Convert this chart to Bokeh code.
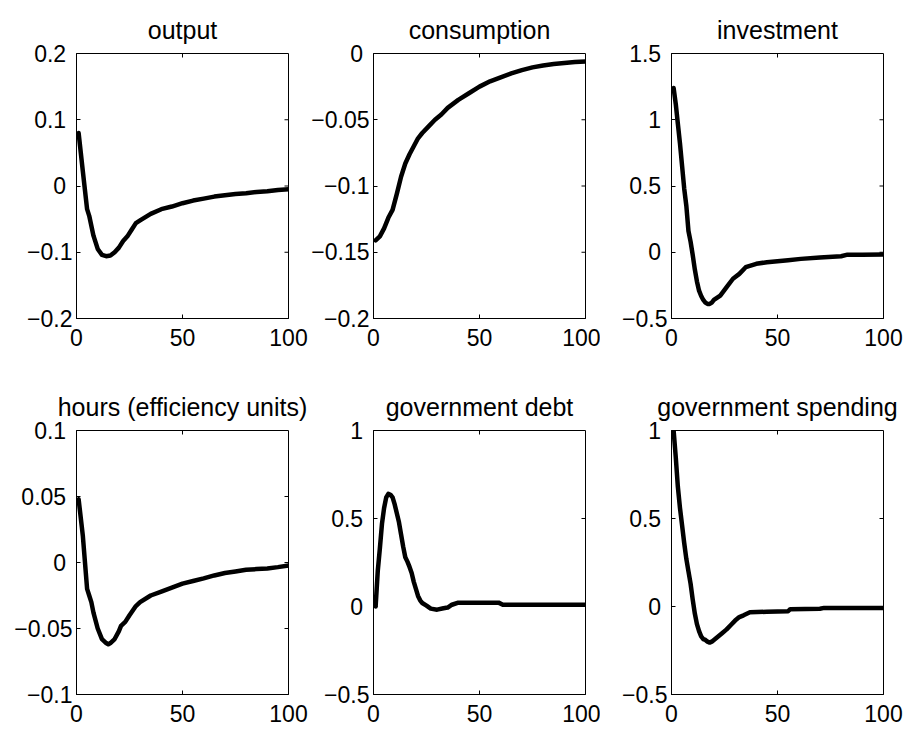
import math
from bokeh.plotting import figure
from bokeh.layouts import gridplot
from bokeh.models import Range1d, FixedTicker
from bokeh.embed import file_html
from bokeh.resources import INLINE

# ---------------- data ----------------
titles = ["output", "consumption", "investment",
          "hours (efficiency units)", "government debt", "government spending"]

x_ticks = [0, 50, 100]
x_labels = ["0", "50", "100"]

output_t = [1, 3, 5, 6, 8, 10, 12, 14, 16, 18, 20, 22, 24, 26, 28, 30, 35, 40, 45,
            50, 55, 60, 65, 70, 75, 80, 85, 90, 95, 100]
output_v = [0.08, 0.022, -0.035, -0.045, -0.075, -0.095, -0.104, -0.106, -0.105, -0.1,
            -0.093, -0.083, -0.076, -0.066, -0.056, -0.052, -0.042, -0.035, -0.031,
            -0.026, -0.022, -0.019, -0.016, -0.014, -0.012, -0.011, -0.009, -0.008,
            -0.006, -0.005]

consumption_t = [1, 3, 5, 7, 9, 11, 13, 15, 17, 19, 21, 23, 26, 29, 32, 35, 40, 45, 50,
                 55, 60, 65, 70, 75, 80, 85, 90, 95, 100]
consumption_v = [-0.141, -0.138, -0.132, -0.124, -0.118, -0.106, -0.093, -0.083, -0.076,
                 -0.07, -0.064, -0.06, -0.055, -0.05, -0.046, -0.041, -0.035, -0.03,
                 -0.025, -0.021, -0.018, -0.015, -0.0125, -0.0105, -0.009, -0.008,
                 -0.0072, -0.0065, -0.006]

investment_t = [1, 2, 3, 4, 5, 6, 7, 8, 9, 10, 11, 12, 13, 14, 15, 16, 17, 18, 19, 20,
                23, 26, 29, 32, 35, 40, 45, 55, 61, 70, 80, 83, 90, 100]
investment_v = [1.24, 1.12, 0.97, 0.82, 0.65, 0.48, 0.35, 0.16, 0.08, -0.02, -0.13, -0.22,
                -0.29, -0.33, -0.36, -0.38, -0.39, -0.39, -0.38, -0.36, -0.327, -0.264,
                -0.2, -0.163, -0.113, -0.087, -0.075, -0.06, -0.05, -0.04, -0.03, -0.018,
                -0.018, -0.017]

hours_t = [1, 3, 5, 6, 7, 8, 10, 12, 14, 15, 16, 18, 20, 21, 23, 25, 28, 30, 35, 40, 45,
           50, 55, 60, 65, 70, 75, 80, 85, 90, 95, 100]
hours_v = [0.048, 0.02, -0.02, -0.025, -0.03, -0.038, -0.05, -0.058, -0.061, -0.062,
           -0.061, -0.058, -0.052, -0.048, -0.045, -0.04, -0.033, -0.03, -0.025, -0.022,
           -0.019, -0.016, -0.014, -0.012, -0.0098, -0.008, -0.0068, -0.0055, -0.005,
           -0.0045, -0.0035, -0.0023]

debt_t = [1, 2, 3, 4, 5, 6, 7, 8, 9, 10, 11, 12, 13, 14, 15, 16, 17, 18, 19, 20, 21, 22,
          23, 25, 27, 30, 33, 35, 37, 40, 59, 61, 100]
debt_v = [0.0, 0.2, 0.33, 0.47, 0.56, 0.62, 0.64, 0.635, 0.62, 0.58, 0.53, 0.48, 0.41,
          0.34, 0.28, 0.255, 0.225, 0.19, 0.14, 0.1, 0.06, 0.035, 0.02, 0.005, -0.012,
          -0.018, -0.01, -0.006, 0.01, 0.022, 0.022, 0.01, 0.01]

spending_t = [1, 2, 3, 4, 5, 6, 7, 8, 9, 10, 11, 12, 13, 14, 15, 16, 17, 18, 19, 20, 22,
              24, 26, 28, 30, 32, 34, 37, 45, 55, 56, 70, 72, 100]
spending_v = [1.0, 0.85, 0.68, 0.56, 0.46, 0.36, 0.27, 0.2, 0.13, 0.04, -0.04, -0.1, -0.14,
              -0.17, -0.185, -0.19, -0.2, -0.205, -0.2, -0.19, -0.17, -0.15, -0.13, -0.105,
              -0.08, -0.06, -0.05, -0.033, -0.03, -0.027, -0.015, -0.013, -0.008, -0.008]

y_ticks = [
    [-0.2, -0.1, 0, 0.1, 0.2],
    [-0.2, -0.15, -0.1, -0.05, 0],
    [-0.5, 0, 0.5, 1, 1.5],
    [-0.1, -0.05, 0, 0.05, 0.1],
    [-0.5, 0, 0.5, 1],
    [-0.5, 0, 0.5, 1],
]
y_labels = [
    ["\u22120.2", "\u22120.1", "0", "0.1", "0.2"],
    ["\u22120.2", "\u22120.15", "\u22120.1", "\u22120.05", "0"],
    ["\u22120.5", "0", "0.5", "1", "1.5"],
    ["\u22120.1", "\u22120.05", "0", "0.05", "0.1"],
    ["\u22120.5", "0", "0.5", "1"],
    ["\u22120.5", "0", "0.5", "1"],
]
series_t = [output_t, consumption_t, investment_t, hours_t, debt_t, spending_t]
series_v = [output_v, consumption_v, investment_v, hours_v, debt_v, spending_v]

# ---------------- layout / style ----------------
FONT = "Liberation Sans"
TICK_FS = "23px"
TITLE_FS = "25px"
col_w = [308, 292, 308]
row_h = [360, 370]
col_borders = [(76, 20), (65, 15), (71, 25)]   # left, right  (frame width 212)
row_borders = [(53, 42), (70, 36)]             # top, bottom


def pad_label(s):
    # MATLAB-style: non-negative labels sit a little further from the box
    return s if s.startswith("\u2212") else s + "\u00a0"


def style_axis(ax, ticks, labels, standoff):
    ax.ticker = FixedTicker(ticks=ticks)
    ax.major_label_overrides = {t: l for t, l in zip(ticks, labels)}
    ax.axis_line_color = "black"
    ax.axis_line_width = 1
    ax.major_tick_line_color = "black"
    ax.major_tick_in = 4
    ax.major_tick_out = 0
    ax.minor_tick_line_color = None
    ax.major_label_text_font = FONT
    ax.major_label_text_font_size = TICK_FS
    ax.major_label_text_color = "black"
    ax.major_label_standoff = standoff


panels = []
for i in range(6):
    r, c = divmod(i, 3)
    yt = y_ticks[i]
    p = figure(width=col_w[c], height=row_h[r],
               x_range=Range1d(0, 100), y_range=Range1d(yt[0], yt[-1]),
               output_backend="svg", toolbar_location=None,
               min_border_left=col_borders[c][0], min_border_right=col_borders[c][1],
               min_border_top=row_borders[r][0], min_border_bottom=row_borders[r][1],
               background_fill_color="white", border_fill_color="white")
    p.title.text = titles[i]
    p.title.align = "center"
    p.title.text_font = FONT
    p.title.text_font_size = TITLE_FS
    p.title.text_font_style = "normal"
    p.title.text_color = "black"
    p.title.standoff = 20
    p.grid.visible = False
    p.outline_line_color = "black"
    p.outline_line_alpha = 1.0
    p.outline_line_width = 1

    style_axis(p.xaxis[0], x_ticks, x_labels, 10)
    style_axis(p.yaxis[0], yt, [pad_label(s) for s in y_labels[i]], 4)

    # inward ticks on the top and right edges of the box (half of each dash is clipped)
    inner_x = x_ticks[1:-1]
    p.scatter(inner_x, [yt[-1]] * len(inner_x), marker="dash", size=8,
              angle=math.pi / 2, line_color="black", line_width=1)
    inner_y = yt[1:-1]
    p.scatter([x_ticks[-1]] * len(inner_y), inner_y, marker="dash", size=8,
              line_color="black", line_width=1)

    p.line(series_t[i], series_v[i], line_width=4.5, line_color="black",
           line_join="round", line_cap="round")
    panels.append(p)

grid = gridplot([panels[0:3], panels[3:6]], toolbar_location=None)

open("out.html", "w").write(file_html(grid, INLINE))
